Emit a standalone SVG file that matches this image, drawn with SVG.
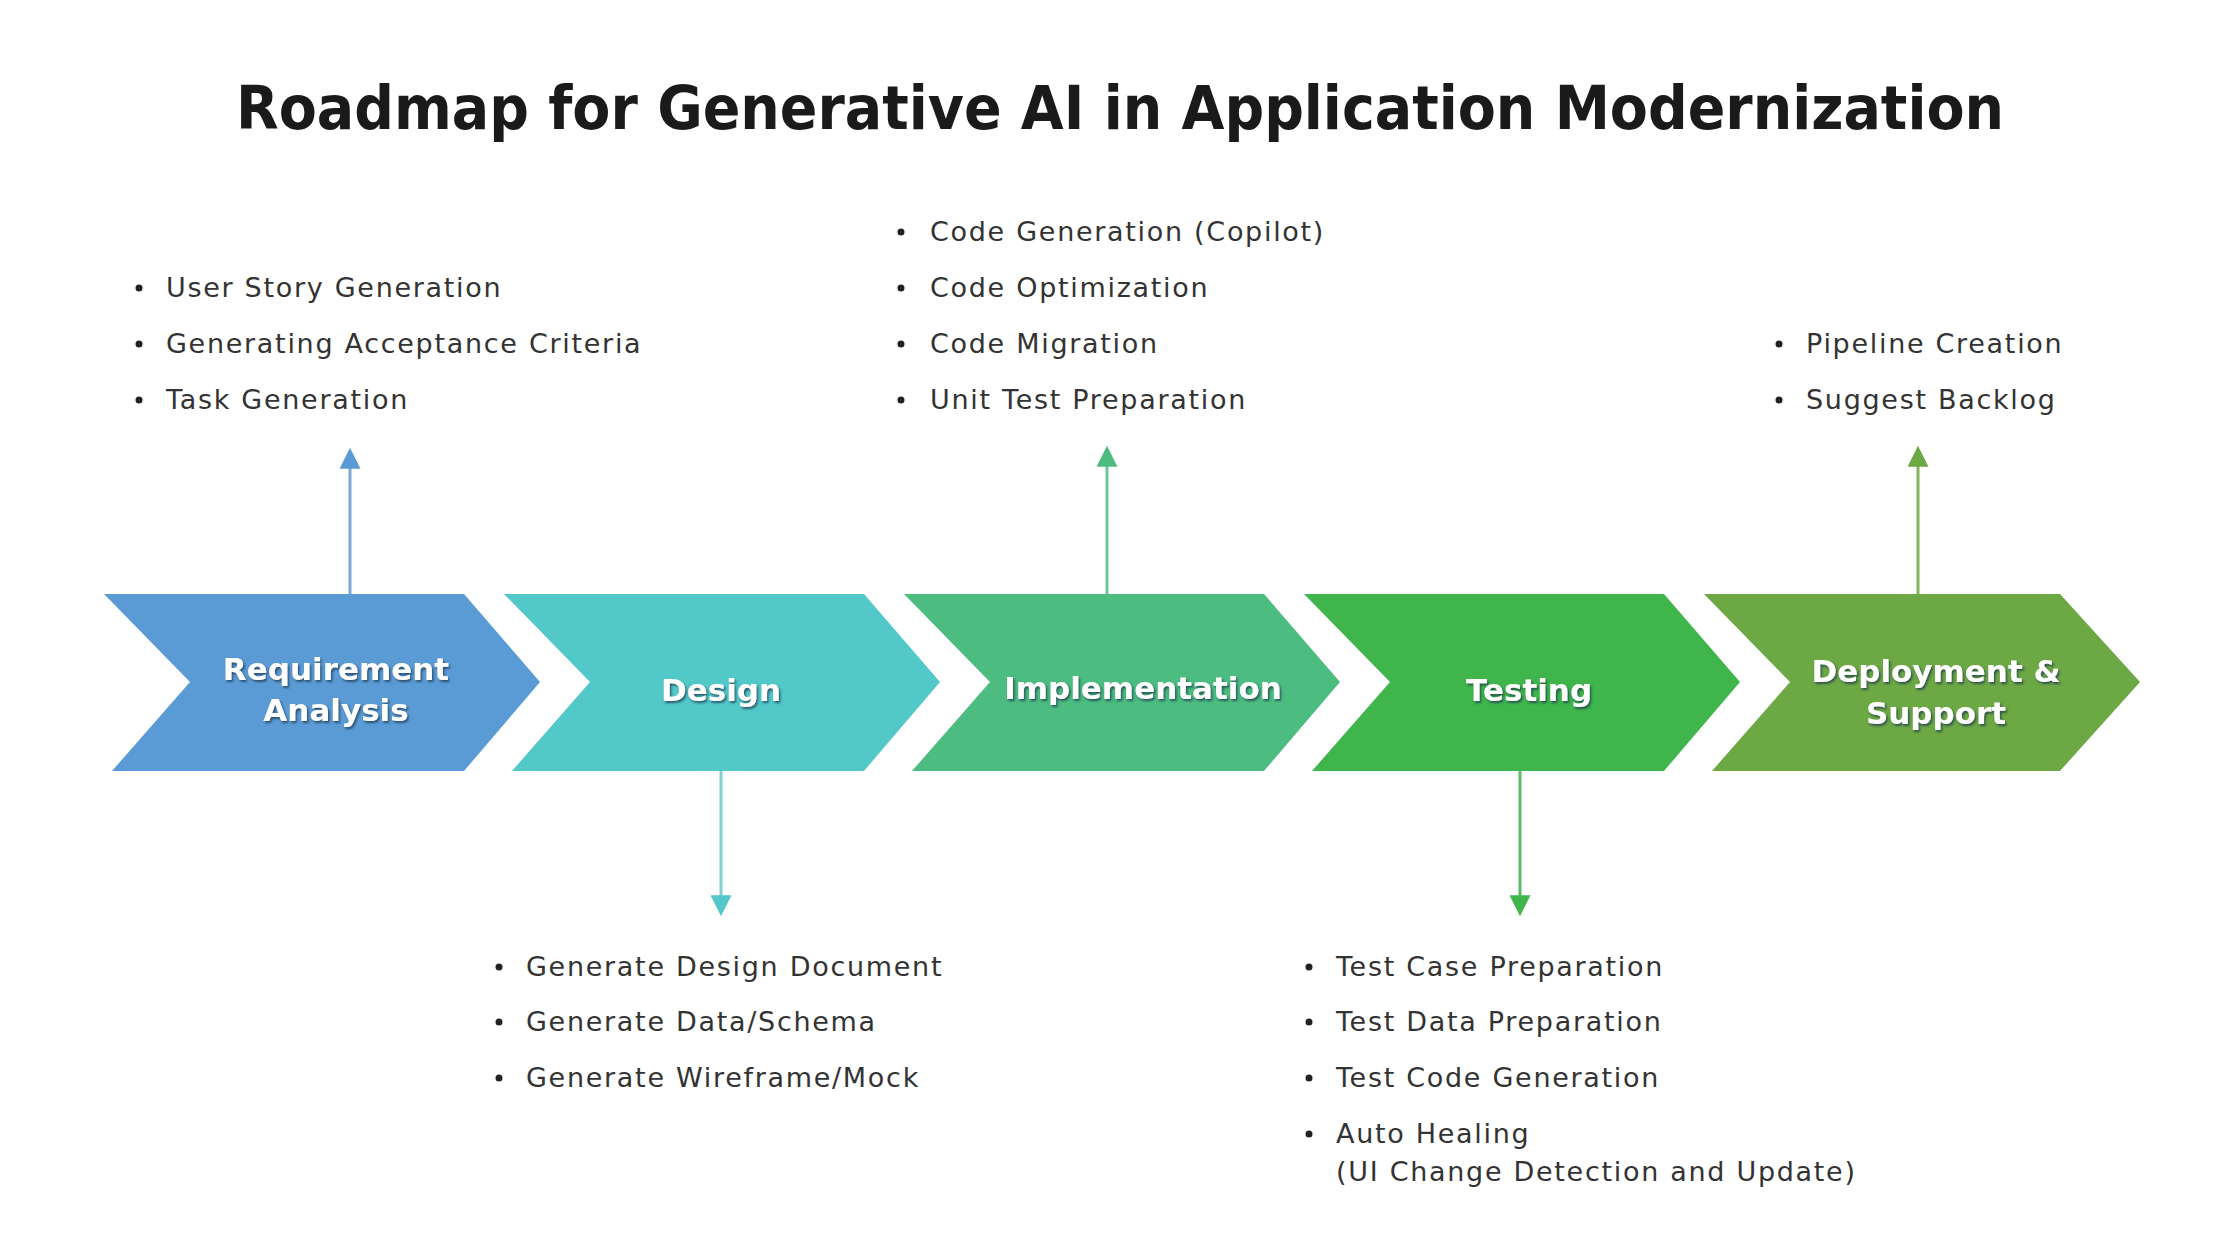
<svg xmlns="http://www.w3.org/2000/svg" width="2240" height="1260" viewBox="0 0 2240 1260">
<defs>
<style>
.title{font-family:"DejaVu Sans","Liberation Sans",sans-serif;font-weight:bold;font-size:60px;fill:#1a1a1a;text-anchor:middle}
.lbl{font-family:"DejaVu Sans","Liberation Sans",sans-serif;font-weight:bold;font-size:31px;fill:#ffffff;text-anchor:middle;filter:url(#sh)}
.item{font-family:"DejaVu Sans","Liberation Sans",sans-serif;font-size:27px;letter-spacing:1.7px;fill:#333333}
.bul{fill:#222222}
.c1{fill:#5B9BD5}.c2{fill:#52C8C8}.c3{fill:#4CBC80}.c4{fill:#3FB54B}.c5{fill:#6CA844}
.ln{stroke-width:3;fill:none}
</style>
<filter id="sh" x="-10%" y="-20%" width="120%" height="150%">
<feDropShadow dx="1.5" dy="2" stdDeviation="1.2" flood-color="#1b3550" flood-opacity="0.75"/>
</filter>
<marker id="a1" viewBox="0 0 10 10" refX="8" refY="5" markerWidth="7" markerHeight="7" orient="auto"><path d="M0,0 L10,5 L0,10 z" fill="#5B9BD5"/></marker>
<marker id="a2" viewBox="0 0 10 10" refX="8" refY="5" markerWidth="7" markerHeight="7" orient="auto"><path d="M0,0 L10,5 L0,10 z" fill="#52C8C8"/></marker>
<marker id="a3" viewBox="0 0 10 10" refX="8" refY="5" markerWidth="7" markerHeight="7" orient="auto"><path d="M0,0 L10,5 L0,10 z" fill="#4CBC80"/></marker>
<marker id="a4" viewBox="0 0 10 10" refX="8" refY="5" markerWidth="7" markerHeight="7" orient="auto"><path d="M0,0 L10,5 L0,10 z" fill="#3FB54B"/></marker>
<marker id="a5" viewBox="0 0 10 10" refX="8" refY="5" markerWidth="7" markerHeight="7" orient="auto"><path d="M0,0 L10,5 L0,10 z" fill="#6CA844"/></marker>
</defs>
<rect width="2240" height="1260" fill="#ffffff"/>
<text class="title" x="1120" y="129" textLength="1768" lengthAdjust="spacingAndGlyphs">Roadmap for Generative AI in Application Modernization</text>

<g id="connectors">
<line class="ln" x1="350" y1="594" x2="350" y2="452" stroke="#7FA8D2" marker-end="url(#a1)"/>
<line class="ln" x1="721" y1="770" x2="721" y2="912" stroke="#7FD0D0" marker-end="url(#a2)"/>
<line class="ln" x1="1107" y1="594" x2="1107" y2="450" stroke="#6CC695" marker-end="url(#a3)"/>
<line class="ln" x1="1520" y1="770" x2="1520" y2="912" stroke="#5DBD66" marker-end="url(#a4)"/>
<line class="ln" x1="1918" y1="594" x2="1918" y2="450" stroke="#80B35E" marker-end="url(#a5)"/>
</g>

<g id="requirement-analysis">
<path class="c1" d="M104,594 L464,594 L540,682 L464,771 L112,771 L190,682 Z"/>
<text class="lbl" x="336" y="680">Requirement</text>
<text class="lbl" x="336" y="721">Analysis</text>
</g>
<g id="design">
<path class="c2" d="M504,594 L864,594 L940,682 L864,771 L512,771 L590,682 Z"/>
<text class="lbl" x="721" y="701">Design</text>
</g>
<g id="implementation">
<path class="c3" d="M904,594 L1264,594 L1340,682 L1264,771 L912,771 L990,682 Z"/>
<text class="lbl" x="1143" y="699">Implementation</text>
</g>
<g id="testing">
<path class="c4" d="M1304,594 L1664,594 L1740,682 L1664,771 L1312,771 L1390,682 Z"/>
<text class="lbl" x="1529" y="701">Testing</text>
</g>
<g id="deployment-support">
<path class="c5" d="M1704,594 L2060,594 L2140,682 L2060,771 L1712,771 L1790,682 Z"/>
<text class="lbl" x="1936" y="682">Deployment &amp;</text>
<text class="lbl" x="1936" y="724">Support</text>
</g>

<g id="list-requirement">
<circle class="bul" cx="139" cy="288" r="3.5"/><text class="item" x="166" y="297">User Story Generation</text>
<circle class="bul" cx="139" cy="344" r="3.5"/><text class="item" x="166" y="353">Generating Acceptance Criteria</text>
<circle class="bul" cx="139" cy="400" r="3.5"/><text class="item" x="166" y="409">Task Generation</text>
</g>
<g id="list-implementation">
<circle class="bul" cx="901" cy="232" r="3.5"/><text class="item" x="930" y="241">Code Generation (Copilot)</text>
<circle class="bul" cx="901" cy="288" r="3.5"/><text class="item" x="930" y="297">Code Optimization</text>
<circle class="bul" cx="901" cy="344" r="3.5"/><text class="item" x="930" y="353">Code Migration</text>
<circle class="bul" cx="901" cy="400" r="3.5"/><text class="item" x="930" y="409">Unit Test Preparation</text>
</g>
<g id="list-deployment">
<circle class="bul" cx="1779" cy="344" r="3.5"/><text class="item" x="1806" y="353">Pipeline Creation</text>
<circle class="bul" cx="1779" cy="400" r="3.5"/><text class="item" x="1806" y="409">Suggest Backlog</text>
</g>
<g id="list-design">
<circle class="bul" cx="499" cy="967" r="3.5"/><text class="item" x="526" y="976">Generate Design Document</text>
<circle class="bul" cx="499" cy="1022" r="3.5"/><text class="item" x="526" y="1031">Generate Data/Schema</text>
<circle class="bul" cx="499" cy="1078" r="3.5"/><text class="item" x="526" y="1087">Generate Wireframe/Mock</text>
</g>
<g id="list-testing">
<circle class="bul" cx="1309" cy="967" r="3.5"/><text class="item" x="1336" y="976">Test Case Preparation</text>
<circle class="bul" cx="1309" cy="1022" r="3.5"/><text class="item" x="1336" y="1031">Test Data Preparation</text>
<circle class="bul" cx="1309" cy="1078" r="3.5"/><text class="item" x="1336" y="1087">Test Code Generation</text>
<circle class="bul" cx="1309" cy="1134" r="3.5"/><text class="item" x="1336" y="1143">Auto Healing</text>
<text class="item" x="1336" y="1181">(UI Change Detection and Update)</text>
</g>
</svg>
